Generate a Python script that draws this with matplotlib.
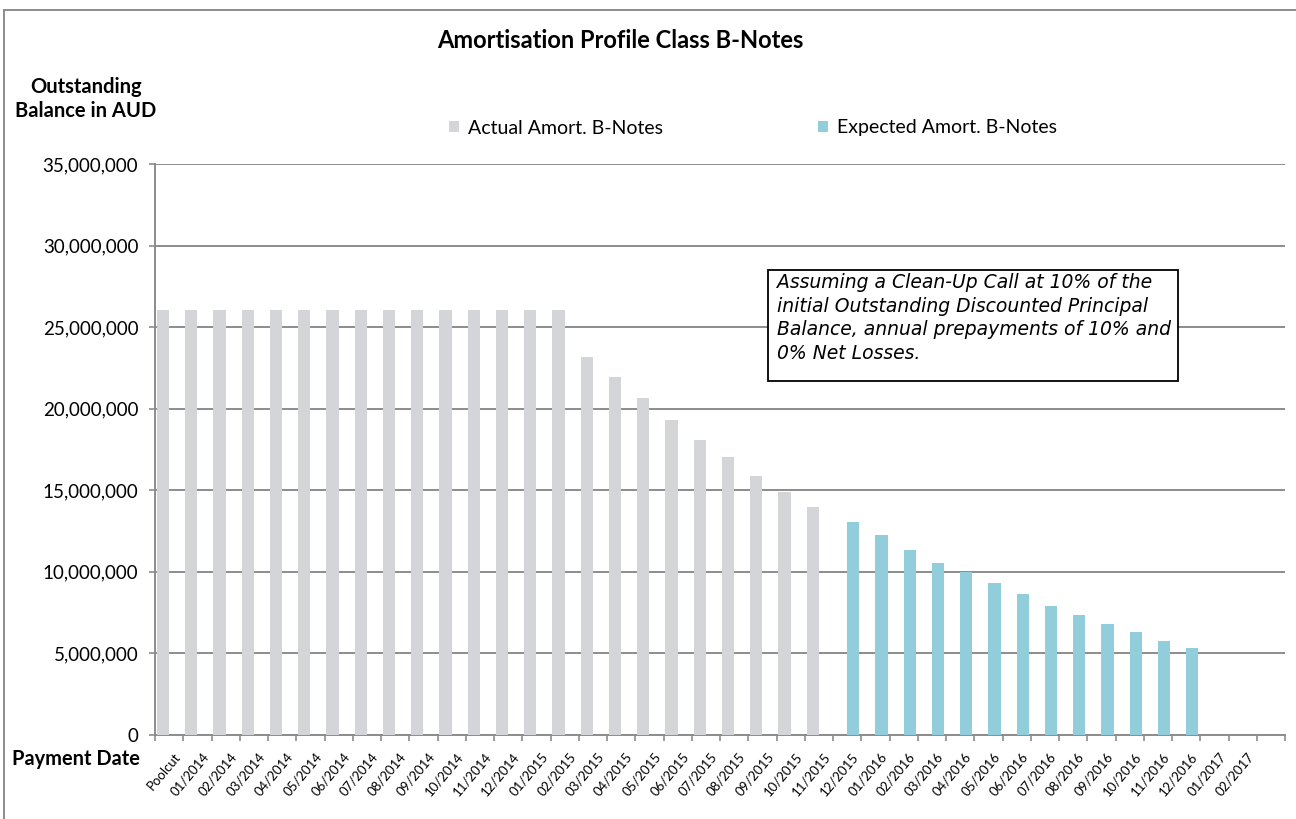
import numpy as np
import matplotlib
matplotlib.use("Agg")
import matplotlib.pyplot as plt
from matplotlib.patches import Rectangle
from matplotlib.ticker import FuncFormatter, FixedLocator

# ── data ────────────────────────────────────────────────────────────
categories = ["Poolcut",
              "01/2014", "02/2014", "03/2014", "04/2014", "05/2014", "06/2014",
              "07/2014", "08/2014", "09/2014", "10/2014", "11/2014", "12/2014",
              "01/2015", "02/2015", "03/2015", "04/2015", "05/2015", "06/2015",
              "07/2015", "08/2015", "09/2015", "10/2015", "11/2015", "12/2015",
              "01/2016", "02/2016", "03/2016", "04/2016", "05/2016", "06/2016",
              "07/2016", "08/2016", "09/2016", "10/2016", "11/2016", "12/2016",
              "01/2017", "02/2017", ""]

# Actual amortisation, Poolcut .. 11/2015
actual = [26050000, 26050000, 26050000, 26050000, 26050000, 26050000,
          26050000, 26050000, 26050000, 26050000, 26050000, 26050000,
          26050000, 26050000, 26050000, 23170000, 21940000, 20660000,
          19290000, 18060000, 17030000, 15880000, 14880000, 13960000]

# Expected amortisation, 12/2015 .. 12/2016
expected = [13040000, 12260000, 11340000, 10550000, 9970000, 9300000,
            8630000, 7930000, 7360000, 6790000, 6330000, 5760000, 5320000]
expected_start = "12/2015"

yticks = [0, 5000000, 10000000, 15000000, 20000000, 25000000, 30000000, 35000000]

note = ("Assuming a Clean-Up Call at 10% of the\n"
        "initial Outstanding Discounted Principal\n"
        "Balance, annual prepayments of 10% and\n"
        "0% Net Losses.")

# ── plot ────────────────────────────────────────────────────────────
plt.rcParams["font.family"] = ["Lato", "DejaVu Sans"]

W, H = 1296, 819
fig = plt.figure(figsize=(W / 100, H / 100), dpi=100)
ax = fig.add_axes([155 / W, 1 - 735 / H, (1285 - 155) / W, (735 - 164) / H])

gray = "#D4D5D9"
blue = "#92CDDC"
grid_c = "#8C8C8C"

n = len(categories)
x = np.arange(n)
bw = 0.436
off = 0.218

x_act = x[:len(actual)]
s = categories.index(expected_start)
x_exp = x[s:s + len(expected)]

ax.bar(x_act - off, actual, width=bw, color=gray, zorder=3,
       label="Actual Amort. B-Notes")
ax.bar(x_exp + off, expected, width=bw, color=blue, zorder=3,
       label="Expected Amort. B-Notes")

ax.set_xlim(-0.5, n - 0.5)
ax.set_ylim(0, 35000000)
ax.set_yticks(yticks)
ax.yaxis.set_major_formatter(FuncFormatter(lambda v, p: f"{int(v):,}"))
ax.yaxis.grid(True, color=grid_c, linewidth=1.4, zorder=0)
ax.set_axisbelow(True)

ax.set_xticks(x + 0.15)
ax.set_xticklabels(categories, rotation=50, ha="right", va="top",
                   rotation_mode="anchor", fontsize=9.5)
ax.xaxis.set_minor_locator(FixedLocator(np.arange(-0.5, n, 1.0)))
ax.tick_params(axis="x", which="major", length=0, pad=11)
ax.tick_params(axis="x", which="minor", length=4, width=1.2, color=grid_c)
ax.tick_params(axis="y", length=4, width=1.2, color=grid_c, labelsize=13.5,
               pad=8)

for side in ("top", "right"):
    ax.spines[side].set_visible(False)
for side in ("left", "bottom"):
    ax.spines[side].set_color(grid_c)
    ax.spines[side].set_linewidth(1.4)

# titles and axis captions
fig.text(620 / W, 1 - 40 / H, "Amortisation Profile Class B-Notes",
         ha="center", va="center", fontsize=17, fontweight="bold")
fig.text(86 / W, 1 - 99 / H, "Outstanding\nBalance in AUD", ha="center",
         va="center", fontsize=14.5, fontweight="bold", linespacing=1.25)
fig.text(12 / W, 1 - 759 / H, "Payment Date", ha="left", va="center",
         fontsize=14.4, fontweight="bold")

fig.legend(loc="center", bbox_to_anchor=(753 / W, 1 - 128 / H), ncol=2,
           frameon=False, fontsize=14, handlelength=0.5, handleheight=0.5,
           handletextpad=0.45, columnspacing=8.0)

# note box
fig.patches.append(Rectangle((768 / W, 1 - 381 / H), (1178 - 768) / W,
                             (381 - 270) / H, transform=fig.transFigure,
                             facecolor="white", edgecolor="black",
                             linewidth=1.3, zorder=5))
fig.text(777 / W, 1 - 318 / H, note, fontsize=13.5, family="DejaVu Sans",
         style="italic", ha="left", va="center", linespacing=1.3, zorder=6)

# outer chart border
fig.patches.append(Rectangle((4 / W, -0.1), 1.2, 1 - 10 / H + 0.1,
                             transform=fig.transFigure, fill=False,
                             edgecolor="#8C8C8C", linewidth=1.4))

fig.savefig("out.png", dpi=100)
